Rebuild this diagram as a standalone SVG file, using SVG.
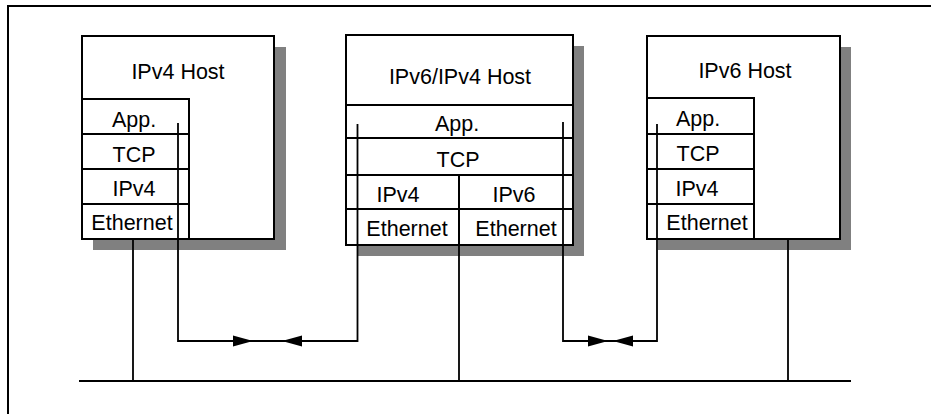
<svg xmlns="http://www.w3.org/2000/svg" width="931" height="414" viewBox="0 0 931 414">
  <style>
    .box { fill: #ffffff; stroke: #000000; stroke-width: 2; }
    .shadow { fill: #808080; stroke: none; }
    .ln { fill: none; stroke: #000000; stroke-width: 2; }
    .wire { fill: none; stroke: #000000; stroke-width: 1.8; }
    .t { font-family: "Liberation Sans", Arial, Helvetica, sans-serif; font-size: 21.5px; fill: #000000; text-anchor: middle; }
    .ah { fill: #000000; stroke: none; }
  </style>
  <defs>
    <path id="arrow" d="M0,0 L-20,-5.5 L-20,5.5 Z"/>
  </defs>
  <rect width="931" height="414" fill="#ffffff"/>
  <g id="frame">
    <path class="ln" d="M8,414 V6 H931"/>
  </g>
  <g id="ipv4-host">
    <rect class="shadow" x="93" y="47" width="193" height="203"/>
    <rect class="box" x="82" y="36" width="192" height="203"/>
    <text class="t" x="178" y="79">IPv4 Host</text>
    <rect class="box" x="82" y="99" width="107" height="140"/>
    <path class="ln" d="M82,134 H189 M82,169 H189 M82,204 H189"/>
    <text class="t" x="134" y="127">App.</text>
    <text class="t" x="134" y="162">TCP</text>
    <text class="t" x="134" y="196">IPv4</text>
    <text class="t" x="132" y="230">Ethernet</text>
  </g>
  <g id="dual-host">
    <rect class="shadow" x="357" y="46" width="227" height="210"/>
    <rect class="box" x="346" y="35" width="227" height="210"/>
    <text class="t" x="460" y="84">IPv6/IPv4 Host</text>
    <path class="ln" d="M346,105 H573 M346,138 H573 M346,175 H573 M346,209 H573 M459,175 V245"/>
    <text class="t" x="457" y="131">App.</text>
    <text class="t" x="458" y="167">TCP</text>
    <text class="t" x="398" y="202">IPv4</text>
    <text class="t" x="514" y="202">IPv6</text>
    <text class="t" x="407" y="236">Ethernet</text>
    <text class="t" x="516" y="236">Ethernet</text>
  </g>
  <g id="ipv6-host">
    <rect class="shadow" x="658" y="47" width="193" height="203"/>
    <rect class="box" x="647" y="36" width="193" height="203"/>
    <text class="t" x="745" y="78">IPv6 Host</text>
    <rect class="box" x="647" y="98" width="107" height="141"/>
    <path class="ln" d="M647,134 H754 M647,169 H754 M647,204 H754"/>
    <text class="t" x="698" y="126">App.</text>
    <text class="t" x="698" y="161">TCP</text>
    <text class="t" x="697" y="196">IPv4</text>
    <text class="t" x="707" y="230">Ethernet</text>
  </g>
  <g id="connectors">
    <path class="wire" d="M178,123 V341 H357.5 V124"/>
    <path class="wire" d="M563,122 V341 H657 V124"/>
    <path class="ln" d="M79,381 H851"/>
    <path class="wire" d="M133,239 V381 M459,245 V381 M788,239 V381"/>
    <use href="#arrow" class="ah" transform="translate(253,341)"/>
    <use href="#arrow" class="ah" transform="translate(282,341) rotate(180)"/>
    <use href="#arrow" class="ah" transform="translate(608,341)"/>
    <use href="#arrow" class="ah" transform="translate(613,341) rotate(180)"/>
  </g>
</svg>
